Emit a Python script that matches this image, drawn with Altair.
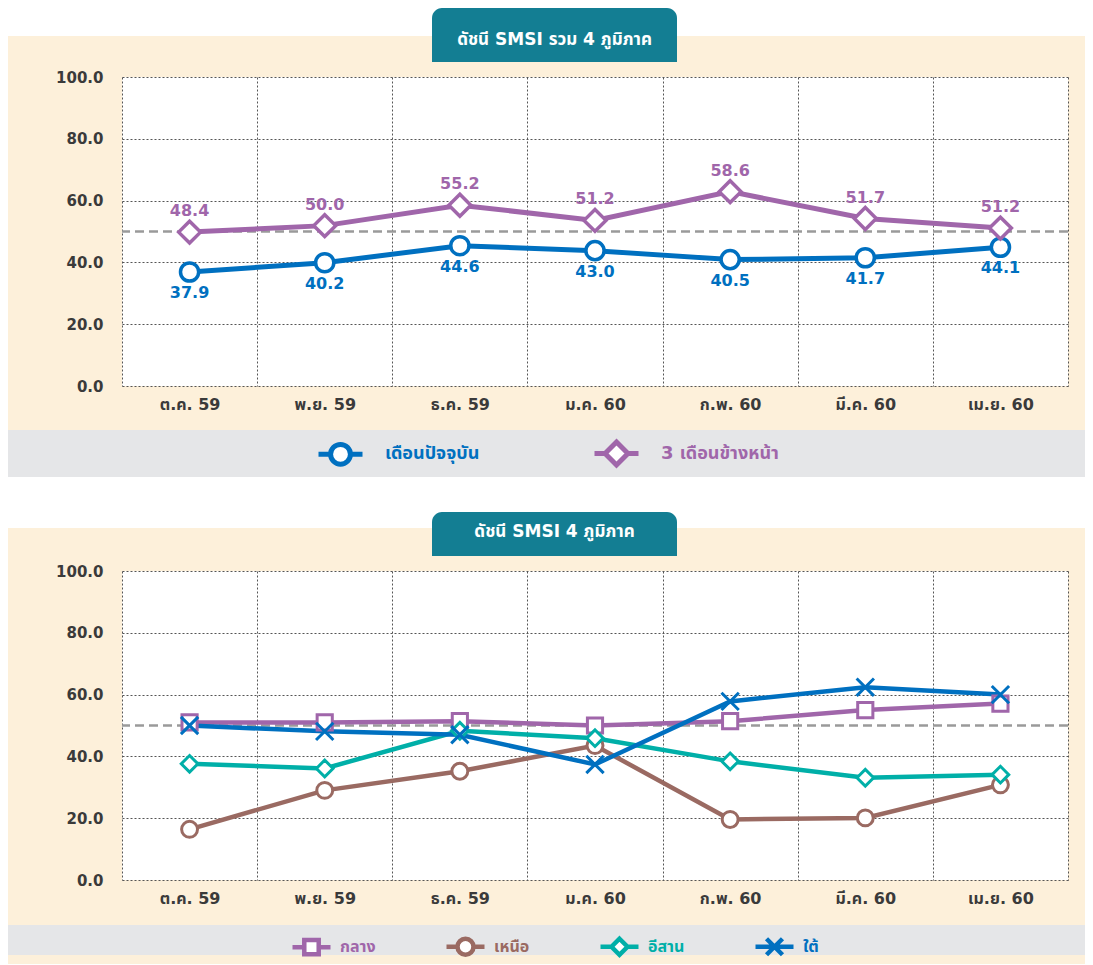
import json
import altair as alt
import pandas as pd

# ---------------- data ----------------
months = ["ต.ค. 59", "พ.ย. 59", "ธ.ค. 59", "ม.ค. 60", "ก.พ. 60", "มี.ค. 60", "เม.ย. 60"]

top_title = "ดัชนี SMSI รวม 4 ภูมิภาค"
bottom_title = "ดัชนี SMSI 4 ภูมิภาค"

top_series = ["เดือนปัจจุบัน", "3 เดือนข้างหน้า"]
current_values = [36.9, 39.9, 45.4, 43.8, 40.9, 41.5, 44.9]
current_labels = ["37.9", "40.2", "44.6", "43.0", "40.5", "41.7", "44.1"]
ahead_values = [49.8, 51.9, 58.5, 53.6, 62.9, 54.2, 51.1]
ahead_labels = ["48.4", "50.0", "55.2", "51.2", "58.6", "51.7", "51.2"]

region_series = ["กลาง", "เหนือ", "อีสาน", "ใต้"]
central_values = [51.0, 51.0, 51.4, 50.0, 51.4, 55.0, 57.1]
north_values = [16.4, 29.0, 35.2, 43.5, 19.6, 20.1, 30.8]
northeast_values = [37.6, 36.1, 48.3, 45.9, 38.4, 33.1, 34.1]
south_values = [50.0, 48.1, 47.0, 37.4, 57.8, 62.4, 60.0]

y_ticks = [0, 20, 40, 60, 80, 100]
threshold = [50]

# ---------------- styles ----------------
FONT = "DejaVu Sans, Noto Sans Thai, Noto Sans, sans-serif"
BLUE = "#0070C0"
PURPLE = "#A066AA"
BROWN = "#9A6A62"
TEAL = "#00AFA8"
BOX = "#137E93"
BEIGE = "#FDF0DA"
STRIP = "#E5E6E8"
GRID = "#555555"
REF = "#9A9A9A"
W, H = 946, 309
RIGHT = 963

top_df = pd.DataFrame({
    "month": months * 2,
    "series": [top_series[0]] * 7 + [top_series[1]] * 7,
    "value": current_values + ahead_values,
    "label": current_labels + ahead_labels,
})
region_df = pd.DataFrame({
    "month": months * 4,
    "series": sum([[s] * 7 for s in region_series], []),
    "value": central_values + north_values + northeast_values + south_values,
})
deco_df = pd.DataFrame({"k": [0]})
thr_df = pd.DataFrame({"t": threshold})


def js_pick(keys, vals):
    return "%s[indexof(%s, datum.value)]" % (json.dumps(vals, ensure_ascii=False),
                                               json.dumps(keys, ensure_ascii=False))


def x_enc():
    return alt.X("month:N", sort=months,
                 scale=alt.Scale(type="band", paddingInner=0, paddingOuter=0),
                 axis=alt.Axis(title=None, labelAngle=0, domain=False, ticks=False, grid=True,
                               tickBand="extent", gridColor=GRID, gridDash=[2, 2], gridWidth=1,
                               labelFont=FONT, labelFontSize=16, labelFontWeight="bold",
                               labelColor="#3a3a3a", labelPadding=10))


def y_enc(field="value:Q"):
    return alt.Y(field, scale=alt.Scale(domain=[0, 100], nice=False),
                 axis=alt.Axis(values=y_ticks, format=".1f", title=None, domain=False, ticks=False,
                               grid=True, gridColor=GRID, gridDash=[2, 2], gridWidth=1,
                               labelFont=FONT, labelFontSize=15, labelFontWeight="bold",
                               labelColor="#3a3a3a", labelPadding=19))


def rect(x1, x2, y1, y2, color, **kw):
    return alt.Chart(deco_df).mark_rect(color=color, **kw).encode(
        x=alt.value(x1), x2=alt.value(x2), y=alt.value(y1), y2=alt.value(y2))


def panel(df, series, colors, shapes, sizes, leg_paths, leg_size, leg_font, leg_x, leg_y,
          col_pad, lab_off, title, title_y0, title_ty, strip_y0, strip_y1, line_w, pt_w,
          with_labels, extra_deco):
    legend = alt.Legend(
        orient="none", legendX=leg_x, legendY=leg_y, direction="horizontal", title=None,
        symbolSize=leg_size, symbolStrokeWidth=line_w, symbolFillColor="white", symbolOpacity=1,
        labelColor={"expr": js_pick(series, colors)},
        labelFont=FONT, labelFontSize=leg_font,
        labelFontWeight="bold", columnPadding=col_pad, labelOffset=lab_off)
    cscale = alt.Scale(domain=series, range=colors)
    color_nol = alt.Color("series:N", scale=cscale, legend=None)

    layers = list(extra_deco)
    layers += [
        rect(-114, RIGHT, strip_y0, strip_y1, STRIP),
        rect(310, 555, title_y0, -15, BOX, cornerRadiusTopLeft=10, cornerRadiusTopRight=10),
        alt.Chart(deco_df).mark_text(text=title, color="white", fontSize=17, fontWeight="bold",
                                     font=FONT).encode(x=alt.value(432.5), y=alt.value(title_ty)),
        alt.Chart(thr_df).mark_rule(color=REF, strokeDash=[9, 5], strokeWidth=2.5).encode(
            y=y_enc("t:Q")),
        alt.Chart(df).mark_line(strokeWidth=line_w).encode(x=x_enc(), y=y_enc(), color=color_nol),
        alt.Chart(df).mark_point(filled=False, fill="white", fillOpacity=1, opacity=1,
                                 strokeWidth=pt_w).encode(
            x=x_enc(), y=y_enc(), color=color_nol,
            shape=alt.Shape("series:N", scale=alt.Scale(domain=series, range=shapes), legend=None),
            size=alt.Size("series:N", scale=alt.Scale(domain=series, range=sizes), legend=None),
        ),
        # legend-only layer (no data rows drawn): line + marker symbols
        alt.Chart(df).transform_filter("false").mark_point(
            filled=False, fill="white", strokeWidth=line_w).encode(
            x=x_enc(), y=y_enc(),
            color=alt.Color("series:N", scale=cscale, legend=legend),
            shape=alt.Shape("series:N", scale=alt.Scale(domain=series, range=leg_paths), legend=legend),
        ),
    ]
    if with_labels:
        lab = alt.Chart(df).encode(x=x_enc(), y=y_enc(), text="label:N", color=color_nol)
        layers += [
            lab.mark_text(dy=21, fontSize=16, fontWeight="bold", font=FONT).transform_filter(
                alt.datum.series == series[0]),
            lab.mark_text(dy=-21, fontSize=16, fontWeight="bold", font=FONT).transform_filter(
                alt.datum.series == series[1]),
        ]
    return alt.layer(*layers).resolve_scale(color="independent", shape="independent").properties(
        width=W, height=H)


def lp_circle(r):
    return "M-1,0H-%s M%s,0H1 M%s,0A%s,%s,0,1,1,-%s,0A%s,%s,0,1,1,%s,0Z" % (r, r, r, r, r, r, r, r, r)


def lp_diamond(r):
    return "M-1,0H-%s M%s,0H1 M0,-%sL%s,0L0,%sL-%s,0Z" % (r, r, r, r, r, r)


def lp_square(r):
    return "M-1,0H-%s M%s,0H1 M-%s,-%sH%sV%sH-%sZ" % (r, r, r, r, r, r, r)


def lp_x(r):
    return "M-1,0H1 M-%s,-%sL%s,%s M-%s,%sL%s,-%s" % (r, r, r, r, r, r, r, r)


X_PATH = "M-1,-1L1,1M-1,1L1,-1"

top = panel(
    top_df, top_series, [BLUE, PURPLE], ["circle", "diamond"], [330, 480],
    [lp_circle(0.45), lp_diamond(0.52)], 1936, 18, 194, 352, 104, 20,
    top_title, -69, -37, 353, 400, 5, 3.5, True,
    [rect(-114, RIGHT, -69, -41, "white"), rect(-114, RIGHT, 400, 451, "white")],
)
bottom = panel(
    region_df, region_series, [PURPLE, BROWN, TEAL, BLUE],
    ["square", "circle", "diamond", X_PATH], [230, 300, 200, 260],
    [lp_square(0.38), lp_circle(0.42), lp_diamond(0.42), lp_x(0.42)], 1444, 16,
    168, 354, 61, 7,
    bottom_title, -59, -39, 354, 384, 4.5, 3, False, [],
)

chart = alt.vconcat(top, bottom, spacing=185, bounds="flush").resolve_scale(
    color="independent", shape="independent", size="independent"
).resolve_legend(color="independent", shape="independent").properties(
    padding=0, background=BEIGE
).configure_view(fill="white", stroke=None)

chart.save("out.html", embed_options={"renderer": "svg", "actions": False})
